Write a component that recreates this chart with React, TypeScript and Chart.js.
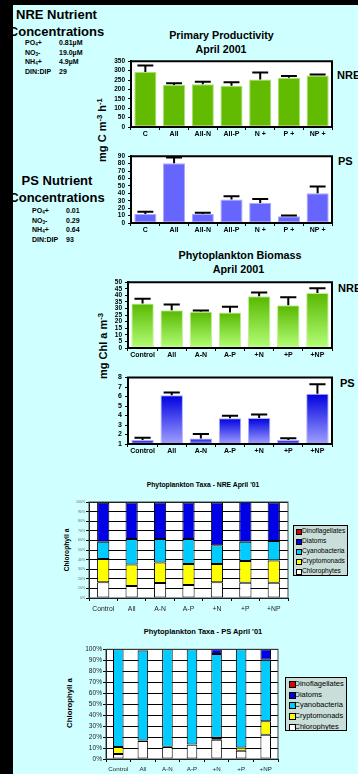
import React, { useEffect, useRef } from "react";
import { Chart, registerables } from "chart.js";
Chart.register(...registerables);

const FONT = "'Liberation Sans', Arial, Helvetica, sans-serif";
Chart.defaults.font.family = FONT;

// ---------- data ----------
const ppCategories = ["C", "All", "All-N", "All-P", "N +", "P +", "NP +"];
const ppNre = [293, 224, 228, 219, 253, 262, 274];
const ppNreErr = [327, 233, 241, 238, 290, 272, 279];
const ppPs = [12.2, 80.4, 12.2, 31.7, 27, 9.1, 40];
const ppPsErr = [15.2, 88.3, 13.9, 36, 32.2, 10, 49.1];

const bioCategories = ["Control", "All", "A-N", "A-P", "+N", "+P", "+NP"];
const bioNre = [33.8, 28.7, 27.5, 27, 39.4, 32.6, 41.8];
const bioNreErr = [37.4, 33.1, 28.5, 31.4, 42.3, 38.6, 45.4];
const bioPs = [1.41, 6.12, 1.58, 3.7, 3.73, 1.41, 6.29];
const bioPsErr = [1.65, 6.43, 2.06, 3.97, 4.1, 1.61, 7.28];

const taxaCategories = ["Control", "All", "A-N", "A-P", "+N", "+P", "+NP"];
const taxaNames = ["Dinoflagellates", "Diatoms", "Cyanobacteria", "Cryptomonads", "Chlorophytes"];
const taxaColors = ["#e00000", "#0000e6", "#00ccff", "#ffff00", "#ffffff"];

const nreChlorophytes = [16.5, 12.5, 15.5, 13.5, 16.5, 16, 16];
const nreCryptomonads = [24, 22.5, 21.5, 22, 19, 22.5, 23];
const nreCyanobacteria = [18, 26.5, 24.5, 26, 19.5, 20, 20.5];
const nreDiatoms = [40.8, 38, 38, 38, 44.5, 41.5, 40];
const nreDinoflagellates = [0.7, 0.5, 0.5, 0.5, 0.5, 0, 0.5];

const psChlorophytes = [4.5, 16.5, 11, 13, 17.5, 7.5, 22];
const psCryptomonads = [6.5, 0.3, 0.2, 0.3, 1.8, 3, 12.5];
const psCyanobacteria = [89, 82.2, 88.8, 86.7, 76.5, 89.5, 56];
const psDiatoms = [0, 1, 0, 0, 4.2, 0, 9.5];
const psDinoflagellates = [0, 0, 0, 0, 0, 0, 0];

const ppNreTicks = { min: 0, max: 350, step: 50 };
const ppPsTicks = { min: 0, max: 90, step: 10 };
const bioNreTicks = { min: 0, max: 50, step: 5 };
const bioPsTicks = { min: 1, max: 8, step: 1 };

// ---------- plugins ----------
const framePlugin = {
  id: "frame",
  beforeDraw(chart: any, _a: any, opts: any) {
    const { ctx, chartArea: a } = chart;
    ctx.save();
    ctx.fillStyle = opts.fill || "#fff";
    ctx.fillRect(a.left, a.top, a.right - a.left, a.bottom - a.top);
    ctx.restore();
  },
  afterDraw(chart: any, _a: any, opts: any) {
    const { ctx, chartArea: a } = chart;
    ctx.save();
    ctx.strokeStyle = opts.color || "#000";
    ctx.lineWidth = opts.width || 1;
    ctx.strokeRect(a.left, a.top, a.right - a.left, a.bottom - a.top);
    ctx.restore();
  },
};

const errorBarPlugin = {
  id: "errorBars",
  afterDatasetsDraw(chart: any) {
    const ds: any = chart.data.datasets[0];
    if (!ds || !ds.errors) return;
    const meta = chart.getDatasetMeta(0);
    const ys = chart.scales.y;
    const ctx = chart.ctx;
    ctx.save();
    ctx.strokeStyle = "#000";
    ctx.lineWidth = 2;
    meta.data.forEach((bar: any, i: number) => {
      const ey = ys.getPixelForValue(ds.errors[i]);
      const w = bar.width * 0.72;
      ctx.beginPath();
      ctx.moveTo(bar.x, bar.y);
      ctx.lineTo(bar.x, ey);
      ctx.moveTo(bar.x - w / 2, ey);
      ctx.lineTo(bar.x + w / 2, ey);
      ctx.stroke();
    });
    ctx.restore();
  },
};

function gradientFill(dark: string, light: string) {
  return (c: any) => {
    const chart = c.chart;
    const a = chart.chartArea;
    if (!a || c.type !== "data") return dark;
    const top = Math.max(chart.scales.y.getPixelForValue(c.raw), a.top);
    const g = chart.ctx.createLinearGradient(0, top, 0, a.bottom);
    g.addColorStop(0, dark);
    g.addColorStop(1, light);
    return g;
  };
}

function barConfig(o: {
  labels: string[];
  values: number[];
  errors: number[];
  ticks: { min: number; max: number; step: number };
  fill: any;
  border: string;
  yW: number;
  xH: number;
  yFont: number;
}) {
  return {
    type: "bar",
    data: {
      labels: o.labels,
      datasets: [
        {
          data: o.values,
          errors: o.errors,
          backgroundColor: o.fill,
          borderColor: o.border,
          borderWidth: 1,
          borderSkipped: false,
          categoryPercentage: 1,
          barPercentage: 0.77,
        },
      ],
    },
    options: {
      animation: false,
      responsive: false,
      layout: { padding: { top: 4, right: 4, left: 0, bottom: 0 } },
      plugins: { legend: { display: false }, tooltip: { enabled: false }, frame: { width: 2 } },
      scales: {
        x: {
          afterFit: (s: any) => (s.height = o.xH),
          grid: { drawOnChartArea: false, offset: true, tickLength: 3, color: "#000", lineWidth: 1 },
          border: { color: "#000", width: 2 },
          ticks: { font: { size: 7, weight: "bold" }, color: "#000", padding: 0, maxRotation: 0, autoSkip: false },
        },
        y: {
          min: o.ticks.min,
          max: o.ticks.max,
          afterFit: (s: any) => (s.width = o.yW),
          grid: { drawOnChartArea: false, tickLength: 3, color: "#000" },
          border: { color: "#000", width: 2 },
          ticks: { stepSize: o.ticks.step, autoSkip: false, font: { size: o.yFont, weight: "bold", lineHeight: 1 }, color: "#000", padding: 3 },
        },
      },
    },
    plugins: [framePlugin, errorBarPlugin],
  };
}

function taxaConfig(o: {
  series: number[][];
  yW: number;
  xH: number;
  yFont: number;
  yColor: string;
  xFont: number;
  xPad: number;
}) {
  return {
    type: "bar",
    data: {
      labels: taxaCategories,
      datasets: [4, 3, 2, 1, 0].map((k) => ({
        label: taxaNames[k],
        data: o.series[k],
        backgroundColor: taxaColors[k],
        borderColor: "#000",
        borderWidth: 1,
        borderSkipped: false,
        categoryPercentage: 1,
        barPercentage: 0.43,
      })),
    },
    options: {
      animation: false,
      responsive: false,
      layout: { padding: { top: 4, right: 4, left: 0, bottom: 0 } },
      plugins: { legend: { display: false }, tooltip: { enabled: false }, frame: { width: 1, color: "#444" } },
      scales: {
        x: {
          stacked: true,
          afterFit: (s: any) => (s.height = o.xH),
          grid: { drawOnChartArea: false, offset: true, tickLength: 3, color: "#000" },
          border: { color: "#000", width: 1 },
          ticks: { font: { size: o.xFont }, color: "#222", padding: o.xPad, maxRotation: 0, autoSkip: false },
        },
        y: {
          stacked: true,
          min: 0,
          max: 100,
          afterFit: (s: any) => (s.width = o.yW),
          grid: { color: "#000", lineWidth: 1, tickLength: 3 },
          border: { color: "#000", width: 1 },
          ticks: { stepSize: 10, autoSkip: false, font: { size: o.yFont, lineHeight: 1 }, color: o.yColor, padding: 1, callback: (v: any) => v + "%" },
        },
      },
    },
    plugins: [framePlugin],
  };
}

function ChartBox(props: { left: number; top: number; width: number; height: number; make: () => any }) {
  const ref = useRef<HTMLCanvasElement>(null);
  useEffect(() => {
    const chart = new Chart(ref.current as HTMLCanvasElement, props.make());
    return () => chart.destroy();
  }, []);
  return (
    <canvas
      ref={ref}
      width={props.width}
      height={props.height}
      style={{ position: "absolute", left: props.left, top: props.top, width: props.width, height: props.height }}
    />
  );
}

function T(p: { x: number; y: number; size: number; bold?: boolean; align?: "left" | "center"; children: any; color?: string }) {
  const style: any = {
    position: "absolute",
    left: p.x,
    top: p.y - p.size * 0.6,
    fontSize: p.size,
    lineHeight: `${p.size * 1.2}px`,
    fontWeight: p.bold ? "bold" : "normal",
    whiteSpace: "nowrap",
    color: p.color || "#000",
    fontFamily: FONT,
  };
  if (p.align === "center") style.transform = "translateX(-50%)";
  return <div style={style}>{p.children}</div>;
}

function VT(p: { x: number; y: number; size: number; children: any }) {
  return (
    <div
      style={{
        position: "absolute",
        left: p.x,
        top: p.y,
        transform: "translate(-50%, -50%) rotate(-90deg)",
        fontSize: p.size,
        fontWeight: "bold",
        whiteSpace: "nowrap",
        fontFamily: FONT,
        lineHeight: 1,
      }}
    >
      {p.children}
    </div>
  );
}

const subS: any = { fontSize: "0.65em", verticalAlign: "-0.3em", lineHeight: 0 };
const supS: any = { fontSize: "0.7em", verticalAlign: "0.45em", lineHeight: 0 };

function Nutrients(p: { x: number; y: number; lx: number; vx: number; rows: number[]; title: string; values: string[] }) {
  const labels = [
    <>PO<span style={subS}>4</span>+</>,
    <>NO<span style={subS}>3</span>-</>,
    <>NH<span style={subS}>4</span>+</>,
    <>DIN:DIP</>,
  ];
  return (
    <>
      <T x={p.x} y={p.y} size={13} bold align="center">{p.title}</T>
      <T x={p.x} y={p.y + 17} size={13} bold align="center">Concentrations</T>
      {labels.map((l, i) => (
        <T key={"l" + i} x={p.lx} y={p.rows[i]} size={7} bold>{l}</T>
      ))}
      {p.values.map((v, i) => (
        <T key={"v" + i} x={p.vx} y={p.rows[i]} size={7} bold>{v}</T>
      ))}
    </>
  );
}

function Legend(p: { left: number; top: number; w: number; h: number; rows: number[]; sx: number; tx: number; sw: number; size: number }) {
  return (
    <div
      style={{
        position: "absolute",
        left: p.left,
        top: p.top,
        width: p.w,
        height: p.h,
        boxSizing: "border-box",
        border: "1px solid #000",
        background: "#c9ded8",
      }}
    >
      {taxaNames.map((n, i) => (
        <React.Fragment key={n}>
          <div
            style={{
              position: "absolute",
              left: p.sx - 1,
              top: p.rows[i] - p.sw / 2 - 1,
              width: p.sw,
              height: p.sw,
              background: taxaColors[i],
              border: "1px solid #000",
            }}
          />
          <T x={p.tx - 1} y={p.rows[i] - 1} size={p.size}>{n}</T>
        </React.Fragment>
      ))}
    </div>
  );
}

export default function App() {
  return (
    <div
      style={{
        position: "fixed",
        left: 0,
        top: 0,
        width: 358,
        height: 774,
        overflow: "hidden",
        background: "#d0ffff",
        fontFamily: FONT,
      }}
    >
      <Nutrients x={56.5} y={15} lx={25} vx={59} rows={[43, 53, 62, 72]} title="NRE Nutrient" values={["0.81µM", "19.0µM", "4.9µM", "29"]} />
      <Nutrients x={57} y={181} lx={32} vx={66} rows={[211, 221, 230, 240]} title="PS Nutrient" values={["0.01", "0.29", "0.64", "93"]} />

      <T x={221.5} y={35} size={10.7} bold align="center">Primary Productivity</T>
      <T x={221} y={49} size={10.7} bold align="center">April 2001</T>
      <T x={240} y={255} size={10.8} bold align="center">Phytoplankton Biomass</T>
      <T x={238.5} y={269} size={10.8} bold align="center">April 2001</T>

      <T x={337} y={76} size={11} bold>NRE</T>
      <T x={338} y={162} size={11} bold>PS</T>
      <T x={338} y={289} size={11} bold>NRE</T>
      <T x={340} y={384} size={11} bold>PS</T>

      <VT x={102} y={130} size={11}>
        mg C m<span style={supS}>-3</span> h<span style={supS}>-1</span>
      </VT>
      <VT x={102.5} y={346} size={11}>
        mg Chl a m<span style={supS}>-3</span>
      </VT>

      <ChartBox left={100} top={55} width={236} height={85} make={() =>
        barConfig({ labels: ppCategories, values: ppNre, errors: ppNreErr, ticks: ppNreTicks, fill: "#62bb00", border: "#a6e070", yW: 31, xH: 13, yFont: 6.5 })} />
      <ChartBox left={100} top={150} width={236} height={86} make={() =>
        barConfig({ labels: ppCategories, values: ppPs, errors: ppPsErr, ticks: ppPsTicks, fill: "#6666ff", border: "#a8a8ff", yW: 31, xH: 13, yFont: 6.5 })} />
      <ChartBox left={100} top={276} width={236} height={86} make={() =>
        barConfig({ labels: bioCategories, values: bioNre, errors: bioNreErr, ticks: bioNreTicks, fill: gradientFill("#58b800", "#b4ff78"), border: "#c0f090", yW: 28, xH: 14, yFont: 6.5 })} />
      <ChartBox left={100} top={371} width={236} height={87} make={() =>
        barConfig({ labels: bioCategories, values: bioPs, errors: bioPsErr, ticks: bioPsTicks, fill: gradientFill("#0000e0", "#a0a0ff"), border: "#b0b0ff", yW: 28, xH: 14, yFont: 7 })} />

      <T x={203} y={485} size={6.8} bold align="center">Phytoplankton Taxa - NRE April '01</T>
      <VT x={67} y={550} size={6.7}>Chlorophyll a</VT>
      <ChartBox left={50} top={498} width={242} height={118} make={() =>
        taxaConfig({ series: [nreDinoflagellates, nreDiatoms, nreCyanobacteria, nreCryptomonads, nreChlorophytes], yW: 39, xH: 18, yFont: 3.5, yColor: "#666", xFont: 6.8, xPad: 4 })} />
      <Legend left={293} top={525} w={55} h={51} rows={[6, 16, 26, 36, 46]} sx={3} tx={9} sw={4} size={6.6} />

      <T x={203} y={631} size={7.5} bold align="center">Phytoplankton Taxa - PS April '01</T>
      <VT x={70} y={703} size={7.8}>Chlorophyll a</VT>
      <ChartBox left={60} top={645} width={222} height={129} make={() =>
        taxaConfig({ series: [psDinoflagellates, psDiatoms, psCyanobacteria, psCryptomonads, psChlorophytes], yW: 46, xH: 15, yFont: 6.6, yColor: "#222", xFont: 6.2, xPad: 4 })} />
      <Legend left={285} top={677} w={62} h={54} rows={[6, 17, 27, 38, 49]} sx={4} tx={9.5} sw={5} size={7.5} />

      <div style={{ position: "absolute", left: 0, top: 0, width: 358, height: 5, background: "#000" }} />
      <div style={{ position: "absolute", left: 0, top: 0, width: 13, height: 774, background: "#000" }} />
    </div>
  );
}
